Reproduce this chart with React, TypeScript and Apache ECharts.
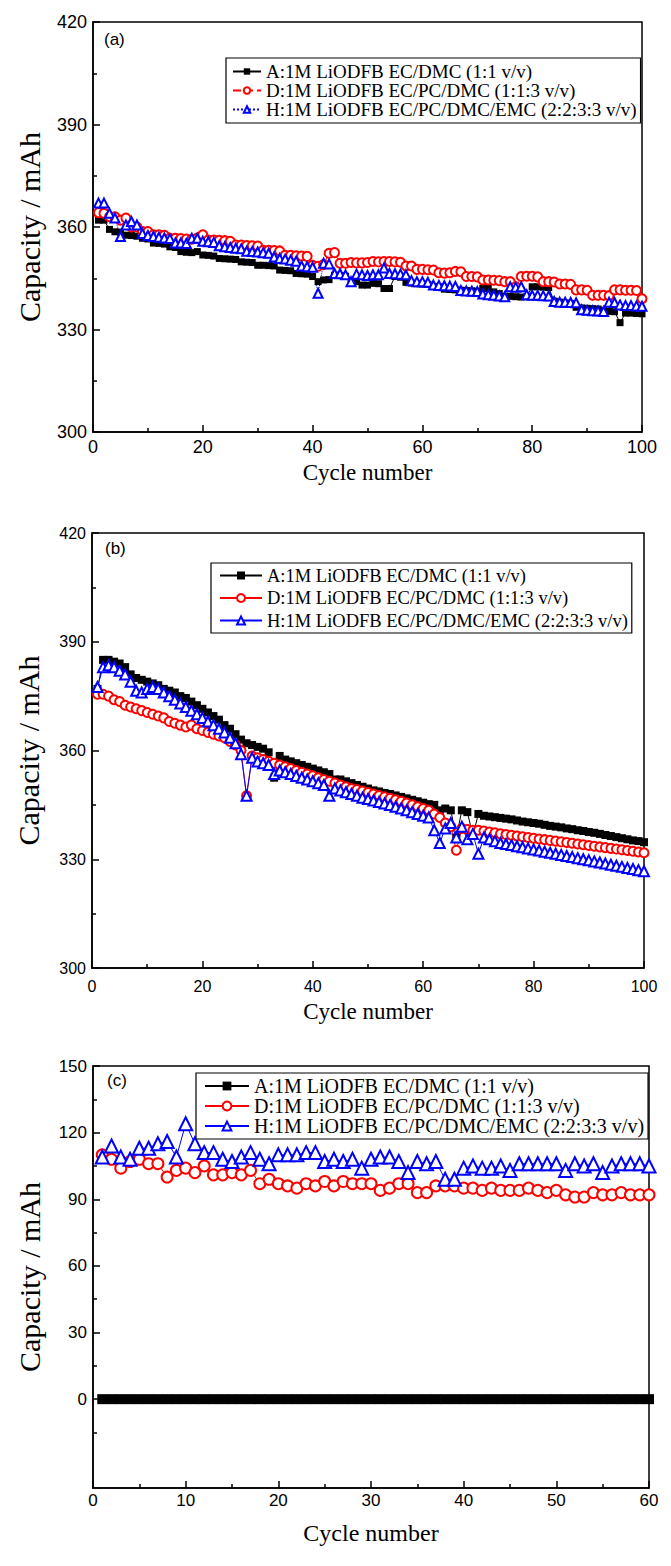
import React, { useEffect, useRef } from "react";
import * as echarts from "echarts";

const SERIF = "'Liberation Serif', 'Times New Roman', serif";
const SANS = "'Liberation Sans', Arial, sans-serif";

const seriesNames = [
  "A:1M LiODFB EC/DMC (1:1 v/v)",
  "D:1M LiODFB EC/PC/DMC (1:1:3 v/v)",
  "H:1M LiODFB EC/PC/DMC/EMC (2:2:3:3 v/v)",
];

// Panel (a): capacity (mAh) for cycles 1..100
const aSeriesA = [
  362, 362, 359.3, 358.6, 358.5, 357.6, 357.5, 357.3, 356.7, 356.5,
  355.3, 355.2, 355, 354.2, 354, 352.8, 352.6, 352.5, 352.8, 351.8,
  351.7, 351.5, 350.8, 350.7, 350.6, 350.5, 349.8, 349.7, 349.6, 348.8,
  348.8, 348.7, 348.6, 347.4, 347.3, 347.2, 346.4, 346.3, 346.2, 345.5,
  344, 344.5, 344.6, 345.9, 345.8, 345.6, 344, 344, 343, 343,
  343.5, 343.4, 342, 342, 345.5, 345.3, 343.8, 343.6, 343.4, 343.3,
  343.2, 342.6, 342.5, 341.8, 341.7, 341.6, 341.5, 341.4, 341.3, 341.2,
  342, 342, 341, 340.5, 339.7, 339.7, 339.6, 339.5, 339.6, 342.5,
  342.5, 342.4, 342.3, 338.3, 338, 337.8, 337.6, 336.5, 336.3, 336.2,
  336.1, 336, 335.5, 335.3, 335.2, 332, 334.8, 334.8, 334.7, 334.6,
];
const aSeriesD = [
  364.2, 364, 363, 363, 362, 362.6, 360, 360, 358.7, 358.7,
  357.7, 357.7, 357.6, 356.7, 356.7, 356.6, 356.5, 356.4, 356.8, 357.7,
  356.2, 356.2, 356.1, 356, 355.8, 354.7, 354.7, 354.6, 354.5, 354.4,
  353.2, 353.2, 353.1, 353, 351.7, 351.7, 351.6, 351.5, 351.4, 348.8,
  348.5, 349, 352.3, 352.5, 349.4, 349.4, 349.6, 349.5, 349.5, 349.6,
  349.9, 349.8, 349.9, 349.9, 349.8, 349.7, 348.6, 348.6, 347.6, 347.6,
  347.5, 347.4, 346.6, 346.5, 346.6, 347, 346.9, 345.5, 345.5, 345.4,
  344.5, 344.5, 344.4, 344.3, 344, 344, 342.5, 345.5, 345.6, 345.6,
  345.4, 344, 344, 343.9, 343.3, 343.3, 343.2, 341.6, 341.6, 341.5,
  340, 340, 340, 339.9, 341.6, 341.6, 341.5, 341.5, 341.4, 339,
];
const aSeriesH = [
  367, 367, 364, 362.6, 357.2, 360.6, 361.6, 360.6, 358.1, 357.5,
  357.2, 357, 356.8, 356.6, 355.3, 355.3, 355.2, 356.7, 356.7, 355.8,
  355.7, 355.5, 354.5, 354.2, 354, 353.8, 353.6, 352.9, 352.8, 352.7,
  352.5, 352.3, 351.2, 350.8, 350.6, 350.3, 350, 348.6, 348.4, 348.2,
  340.6, 349.4, 349.2, 346.4, 346.3, 346, 344, 346.2, 346, 345.8,
  346, 346, 348, 346.4, 346.3, 346.2, 346, 344.3, 344, 344,
  343.8, 343, 342.9, 342.8, 342.7, 342.6, 341.4, 341.3, 341.2, 341.1,
  340.4, 340.2, 340, 339.8, 339.6, 342.5, 342.4, 342.5, 340.2, 340,
  340, 339.9, 339.8, 338.2, 338, 338, 337.9, 337.8, 335.8, 335.6,
  335.5, 335.4, 335.3, 338, 337.9, 337.2, 337, 337, 336.9, 336.8,
];

// Panel (b)
const bSeriesA = [
  377, 385, 385, 384.5, 384, 383, 381, 380, 379.5, 379,
  378.5, 378, 377, 376.5, 376, 375, 374.5, 373.5, 372.5, 371.5,
  370.5, 369.5, 368.5, 367, 366, 364.5, 363, 362, 361.5, 361,
  360.5, 359.5, 352.5, 358.5, 357.5, 357, 356.5, 356, 355.5, 355,
  354.5, 354, 353.5, 352, 352, 351.5, 351, 350.5, 350, 349.5,
  349, 348.7, 348.3, 348, 347.6, 347.2, 346.8, 346.4, 346, 345.6,
  345.2, 345, 343.5, 344, 343.5, 336, 343.5, 343, 336.5, 342.5,
  342, 341.8, 341.6, 341.4, 341.2, 341, 340.7, 340.4, 340.2, 340,
  339.8, 339.5, 339.2, 339, 338.8, 338.5, 338.3, 338, 337.8, 337.5,
  337.3, 337, 336.7, 336.4, 336.1, 335.8, 335.5, 335.2, 335, 334.7,
];
const bSeriesD = [
  375.5, 375.5, 375, 374, 373.5, 372.5, 372, 371.5, 371, 370.5,
  370, 369.5, 369, 368, 367.5, 367, 366.5, 367, 366, 365.5,
  365, 364.5, 364, 363.5, 362.5, 361.5, 360, 347.5, 358.5, 358,
  357.5, 357, 356.5, 356, 355.5, 355, 354.5, 354, 353.5, 353,
  352.5, 352, 351.5, 351, 350.5, 350, 349.5, 349.2, 348.8, 348.4,
  348, 347.6, 347.2, 346.8, 346.4, 346, 345.5, 345, 344.5, 344,
  343.5, 342.5, 341.5, 340, 339, 332.5, 338.5, 338.2, 338, 338,
  337.8, 337.5, 337.3, 337, 336.8, 336.6, 336.4, 336.2, 336, 335.8,
  335.6, 335.4, 335.2, 335, 334.8, 334.6, 334.4, 334.2, 334, 333.8,
  333.6, 333.4, 333.2, 333, 332.8, 332.6, 332.4, 332.2, 332, 331.8,
];
const bSeriesH = [
  377.5, 383, 383.5, 383, 382, 381, 379, 376.5, 376, 377,
  377.5, 377, 376, 375, 374, 373, 372, 371, 370, 369,
  368, 367, 366, 365, 363.5, 362, 359, 347.5, 358, 357,
  356.5, 356, 353.5, 354.5, 354, 353.5, 353, 352.5, 352, 351.5,
  351, 350.5, 347.5, 349.5, 349, 348.5, 348, 347.5, 347, 346.6,
  346.2, 345.8, 345.4, 345, 344.5, 344, 343.5, 343, 342.5, 342,
  341.5, 338, 334.5, 338.5, 340, 336, 339, 335.5, 337, 331.5,
  336, 335.5, 335, 334.5, 334.2, 333.9, 333.6, 333.3, 333, 332.7,
  332.4, 332.1, 331.8, 331.5, 331.2, 330.9, 330.6, 330.3, 330, 329.7,
  329.4, 329.1, 328.8, 328.5, 328.2, 327.9, 327.6, 327.3, 327, 326.7,
];

// Panel (c): cycles 1..60
const cSeriesA = [
  0, 0, 0, 0, 0, 0, 0, 0, 0, 0,
  0, 0, 0, 0, 0, 0, 0, 0, 0, 0,
  0, 0, 0, 0, 0, 0, 0, 0, 0, 0,
  0, 0, 0, 0, 0, 0, 0, 0, 0, 0,
  0, 0, 0, 0, 0, 0, 0, 0, 0, 0,
  0, 0, 0, 0, 0, 0, 0, 0, 0, 0,
];
const cSeriesD = [
  110, 108, 104, 107, 108, 106, 106, 100, 103, 104,
  102, 105, 101, 101, 102, 101, 103, 97, 99, 97,
  96, 95, 97, 96, 98, 96, 98, 97, 97, 97,
  94, 95, 97, 97, 93, 93, 96, 96, 96, 95,
  95, 94, 95, 94, 94, 94, 95, 94, 93, 94,
  92, 91, 91, 93, 92, 92, 93, 92, 92, 92,
];
const cSeriesH = [
  109, 114, 109, 108, 113, 113, 115, 116, 109, 124,
  115, 111, 111, 108, 107, 109, 111, 108, 106, 110,
  110, 110, 111, 111, 107, 108, 107, 108, 104, 108,
  109, 109, 107, 102, 107, 106, 107, 99, 99, 104,
  105, 104, 104, 105, 103, 106, 106, 106, 106, 106,
  103, 106, 105, 106, 102, 105, 106, 106, 106, 105,
];

const xTicksAB = [0, 20, 40, 60, 80, 100];
const yTicksAB = [300, 330, 360, 390, 420];
const xTicksC = [0, 10, 20, 30, 40, 50, 60];
const yTicksC = [0, 30, 60, 90, 120, 150];
const yMinorTicksC = [-15, 15, 45, 75, 105, 135];

const toXY = (vals: number[]) => vals.map((v, i) => [i + 1, v]);

const axisLine = { show: true, onZero: false, lineStyle: { color: "#000", width: 1.5 } };

function valueAxis(o: any) {
  return {
    type: "value",
    axisLine,
    axisTick: { show: true, inside: true, length: 7, lineStyle: { color: "#000", width: 1.5 } },
    minorTick: { show: true, splitNumber: 2, length: 4, lineStyle: { color: "#000", width: 1.5 } },
    splitLine: { show: false },
    minorSplitLine: { show: false },
    nameLocation: "middle",
    ...o,
  };
}

function seriesFor(names: string[], a: number[], d: number[], h: number[], p: any) {
  return [
    {
      name: names[0],
      type: "line",
      data: toXY(a),
      symbol: "rect",
      symbolSize: p.sq,
      itemStyle: { color: "#000" },
      lineStyle: { color: "#000", width: 1, type: "solid" },
    },
    {
      name: names[1],
      type: "line",
      data: toXY(d),
      symbol: "emptyCircle",
      symbolSize: p.ci,
      itemStyle: { color: "#ff0000", borderWidth: 1 },
      lineStyle: { color: "#ff0000", width: 1, type: p.dType },
    },
    {
      name: names[2],
      type: "line",
      data: toXY(h),
      symbol: "emptyTriangle",
      symbolSize: p.tr,
      itemStyle: { color: "#0000ff", borderWidth: 1 },
      lineStyle: { color: "#0000ff", width: 1, type: p.hType },
    },
  ];
}

function legendFor(o: any) {
  return {
    orient: "vertical",
    borderColor: "#000",
    borderWidth: 1.2,
    backgroundColor: "#fff",
    data: seriesNames,
    ...o,
  };
}

const yName = (gap: number) => ({
  name: "Capacity / mAh",
  nameGap: gap,
  nameTextStyle: { color: "#000", fontFamily: SERIF, fontSize: 30 },
});

const optionA: any = {
  animation: false,
  grid: { left: 93, top: 22, width: 549, height: 410, show: true, borderColor: "#000", borderWidth: 1.5 },
  xAxis: valueAxis({
    min: xTicksAB[0],
    max: xTicksAB[xTicksAB.length - 1],
    interval: 20,
    axisLabel: { color: "#000", fontFamily: SANS, fontSize: 18, margin: 6 },
    name: "Cycle number",
    nameGap: 21,
    nameTextStyle: { color: "#000", fontFamily: SERIF, fontSize: 23 },
  }),
  yAxis: valueAxis({
    min: yTicksAB[0],
    max: yTicksAB[yTicksAB.length - 1],
    interval: 30,
    axisLabel: { color: "#000", fontFamily: SANS, fontSize: 18, margin: 6 },
    ...yName(49),
  }),
  legend: legendFor({
    left: 226,
    top: 58,
    itemWidth: 28,
    itemHeight: 8,
    itemGap: 0,
    padding: [4, 4, 4, 6],
    textStyle: { color: "#000", fontFamily: SERIF, fontSize: 19 },
  }),
  graphic: [
    { type: "text", left: 104, top: 31, style: { text: "(a)", font: `17px ${SANS}`, fill: "#000" } },
  ],
  series: seriesFor(seriesNames, aSeriesA, aSeriesD, aSeriesH, { sq: 7, ci: 9, tr: 9, dType: "dashed", hType: "dotted" }),
};

const optionB: any = {
  animation: false,
  grid: { left: 92, top: 43, width: 552, height: 435, show: true, borderColor: "#000", borderWidth: 1.5 },
  xAxis: valueAxis({
    min: xTicksAB[0],
    max: xTicksAB[xTicksAB.length - 1],
    interval: 20,
    axisLabel: { color: "#000", fontFamily: SANS, fontSize: 16, margin: 10 },
    name: "Cycle number",
    nameGap: 32,
    nameTextStyle: { color: "#000", fontFamily: SERIF, fontSize: 23 },
  }),
  yAxis: valueAxis({
    min: yTicksAB[0],
    max: yTicksAB[yTicksAB.length - 1],
    interval: 30,
    axisLabel: { color: "#000", fontFamily: SANS, fontSize: 16, margin: 6 },
    ...yName(49),
  }),
  legend: legendFor({
    left: 211,
    top: 73,
    itemWidth: 42,
    itemHeight: 10,
    itemGap: 3.5,
    padding: [3, 4, 3, 8],
    textStyle: { color: "#000", fontFamily: SERIF, fontSize: 18.5 },
  }),
  graphic: [
    { type: "text", left: 105, top: 50, style: { text: "(b)", font: `17px ${SANS}`, fill: "#000" } },
  ],
  series: seriesFor(seriesNames, bSeriesA, bSeriesD, bSeriesH, { sq: 8, ci: 9, tr: 10, dType: "solid", hType: "solid" }),
};

const optionC: any = {
  animation: false,
  grid: { left: 93, top: 31, width: 556, height: 422, show: true, borderColor: "#000", borderWidth: 1.5 },
  xAxis: valueAxis({
    min: xTicksC[0],
    max: xTicksC[xTicksC.length - 1],
    interval: 10,
    axisLabel: { color: "#000", fontFamily: SANS, fontSize: 17, margin: 4 },
    name: "Cycle number",
    nameGap: 33,
    nameTextStyle: { color: "#000", fontFamily: SERIF, fontSize: 24 },
  }),
  yAxis: [
    valueAxis({
      min: -40,
      max: 150,
      minorTick: { show: false },
      axisTick: { show: true, inside: true, length: 7, customValues: yTicksC, lineStyle: { color: "#000", width: 1.5 } },
      axisLabel: { color: "#000", fontFamily: SANS, fontSize: 17, margin: 6, customValues: yTicksC },
      ...yName(49),
    }),
    {
      type: "value",
      position: "left",
      min: -40,
      max: 150,
      axisLine: { show: false },
      axisLabel: { show: false },
      splitLine: { show: false },
      axisTick: { show: true, inside: true, length: 4, customValues: yMinorTicksC, lineStyle: { color: "#000", width: 1.5 } },
    },
  ],
  legend: legendFor({
    left: 196,
    top: 38,
    itemWidth: 44,
    itemHeight: 11,
    itemGap: 0,
    padding: [3, 4, 3, 8],
    textStyle: { color: "#000", fontFamily: SERIF, fontSize: 20 },
  }),
  graphic: [
    { type: "text", left: 107, top: 37, style: { text: "(c)", font: `17px ${SANS}`, fill: "#000" } },
  ],
  series: seriesFor(seriesNames, cSeriesA, cSeriesD, cSeriesH, { sq: 10, ci: 11, tr: 13, dType: "solid", hType: "solid" }),
};

function Panel({ option, top, height }: { option: any; top: number; height: number }) {
  const ref = useRef<HTMLDivElement>(null);
  useEffect(() => {
    if (!ref.current) return;
    const chart = echarts.init(ref.current, undefined, { renderer: "svg" });
    chart.setOption(option);
    return () => chart.dispose();
  }, [option]);
  return <div ref={ref} style={{ position: "absolute", left: 0, top, width: 671, height }} />;
}

export default function App() {
  return (
    <div style={{ position: "absolute", left: 0, top: 0, width: 671, height: 1566, background: "#fff" }}>
      <Panel option={optionA} top={0} height={490} />
      <Panel option={optionB} top={490} height={545} />
      <Panel option={optionC} top={1035} height={531} />
    </div>
  );
}
